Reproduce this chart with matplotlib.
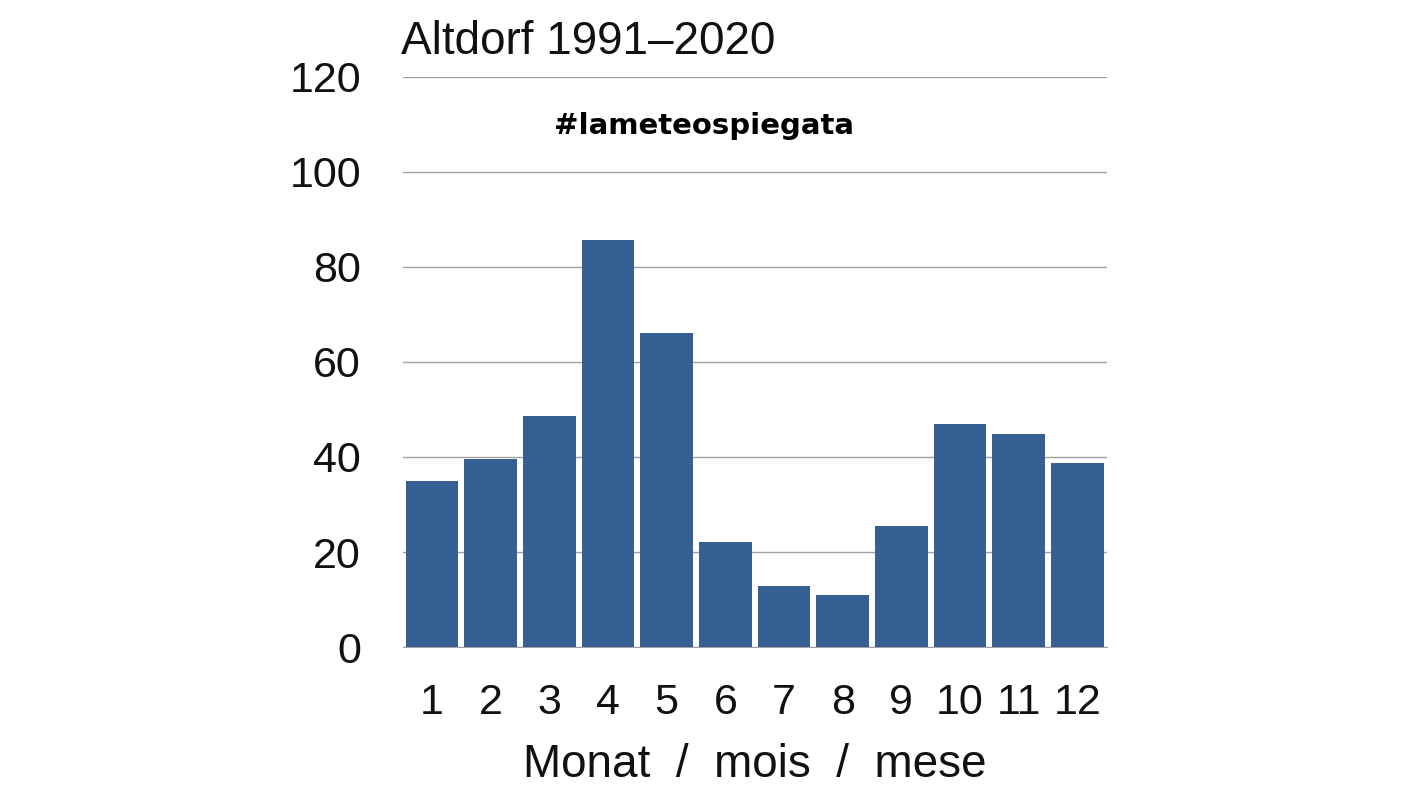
import matplotlib
matplotlib.use('agg')
import matplotlib.pyplot as plt

months = [str(m) for m in range(1, 13)]
values = [35.0, 39.6, 48.6, 85.7, 66.1, 22.1, 12.8, 10.9, 25.5, 46.9, 44.8, 38.7]
yticks = [0, 20, 40, 60, 80, 100, 120]

plt.rcParams['font.family'] = ['Liberation Sans', 'DejaVu Sans']

fig = plt.figure(figsize=(14.08, 7.92), dpi=100)
ax = fig.add_axes([0.286, 0.183, 0.5, 0.72])

x = list(range(1, 13))
ax.bar(x, values, width=0.9, color='#366092', zorder=3)
ax.set_xlim(0.5, 12.5)
ax.set_ylim(0, 120)
ax.set_yticks(yticks)
ax.set_xticks(x)
ax.set_xticklabels(months)
ax.grid(axis='y', color='#a0a0a0', linewidth=1, zorder=0)
for s in ['top', 'right', 'left']:
    ax.spines[s].set_visible(False)
ax.spines['bottom'].set_color('#a0a0a0')
ax.tick_params(length=0, labelsize=31, colors='#111111')
ax.tick_params(axis='x', pad=26)
ax.tick_params(axis='y', pad=30)

ax.set_xlabel('Monat  /  mois  /  mese', fontsize=33, color='#111111', labelpad=14)
fig.text(0.285, 0.947, 'Altdorf 1991–2020', fontsize=33, color='#111111', va='center')
fig.text(0.50, 0.841, '#lameteospiegata', fontsize=21, fontweight='bold',
         ha='center', va='center', family=['DejaVu Sans'])

fig.savefig('out.png', dpi=100)
